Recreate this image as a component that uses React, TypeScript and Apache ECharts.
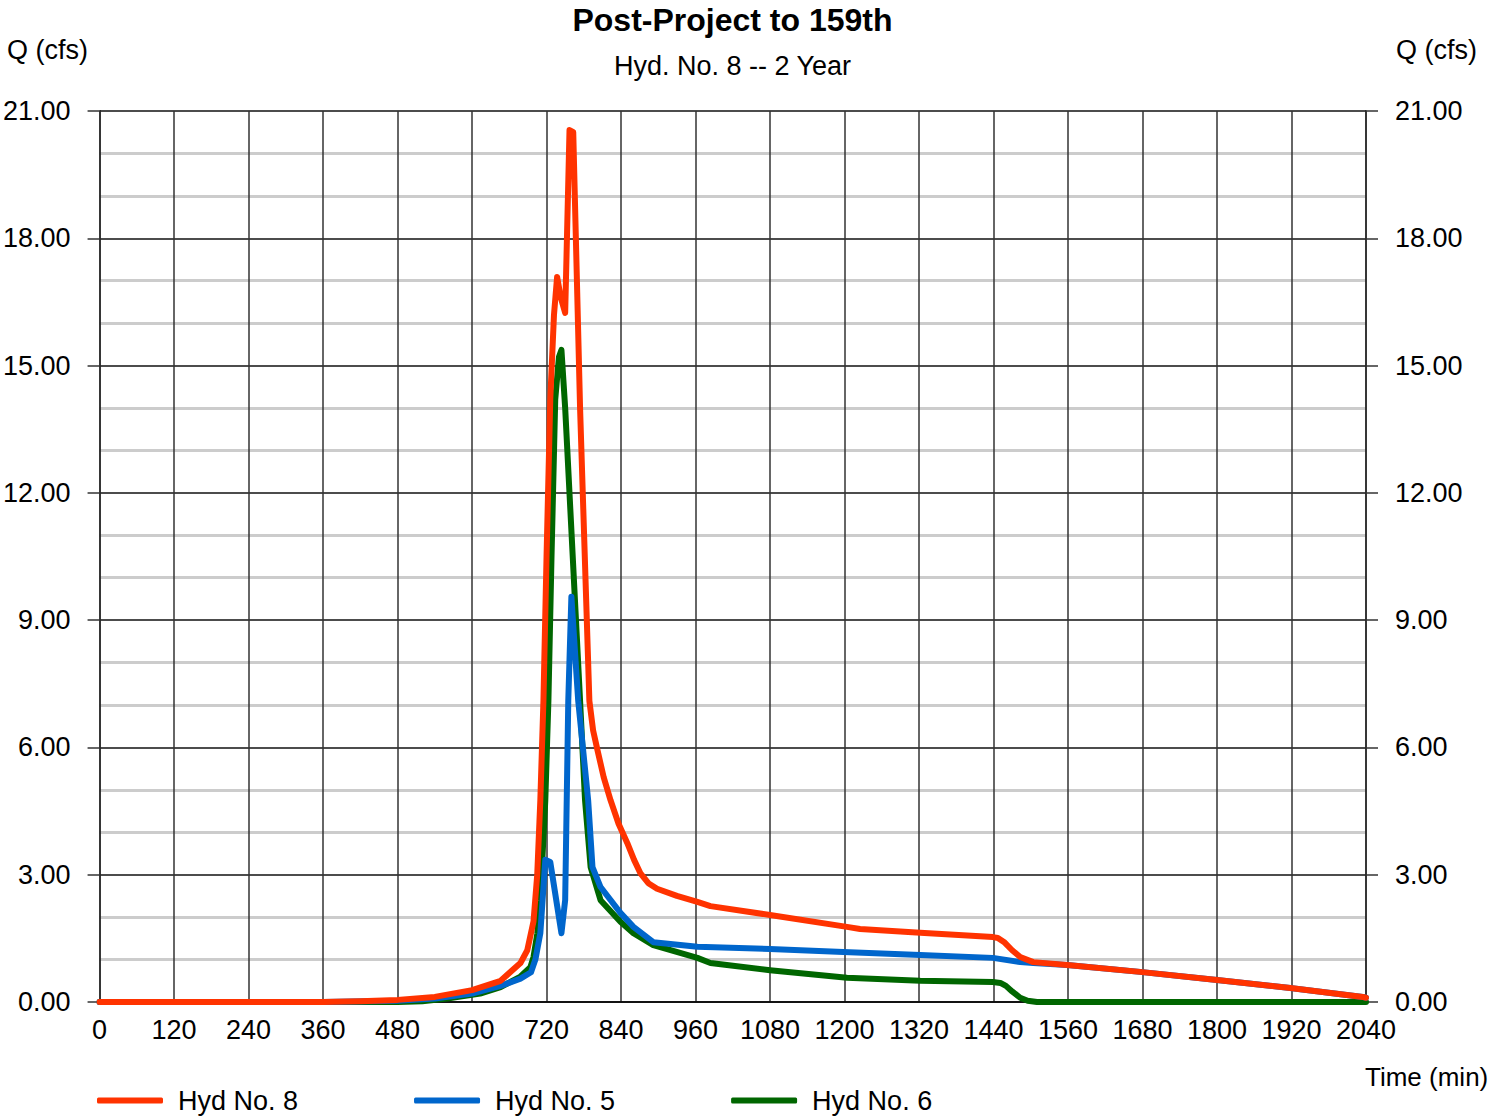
import React, { useEffect, useRef } from "react";
import * as echarts from "echarts";

// ---- Data (time in minutes, flow in cfs) ----
const hyd8Time = [0, 360, 420, 480, 540, 600, 646, 678, 689, 699, 705, 710, 715, 720, 726, 732, 737, 743, 750, 757, 763, 774, 789, 795, 802, 812, 823, 836, 850, 861, 871, 884, 898, 930, 963, 984, 1080, 1204, 1225, 1322, 1439, 1447, 1458, 1470, 1483, 1504, 1559, 1676, 1800, 1918, 2035, 2040];
const hyd8Flow = [0, 0, 0.02, 0.05, 0.12, 0.28, 0.5, 0.92, 1.22, 1.9, 3.0, 4.76, 7.1, 10.5, 14.2, 16.2, 17.09, 16.6, 16.24, 20.55, 20.5, 14.0, 7.1, 6.4, 5.94, 5.3, 4.76, 4.2, 3.75, 3.35, 3.04, 2.8, 2.67, 2.5, 2.36, 2.26, 2.05, 1.77, 1.72, 1.63, 1.53, 1.51, 1.4, 1.22, 1.06, 0.94, 0.87, 0.71, 0.52, 0.33, 0.12, 0.1];

const hyd5Time = [0, 360, 480, 540, 600, 646, 678, 695, 702, 710, 718, 726, 744, 750, 755, 760, 771, 787, 794, 807, 839, 860, 892, 963, 1080, 1198, 1322, 1439, 1483, 1504, 1559, 1676, 1800, 1918, 2035, 2040];
const hyd5Flow = [0, 0, 0.03, 0.08, 0.2, 0.38, 0.55, 0.7, 1.0, 1.62, 3.35, 3.3, 1.62, 2.4, 7.1, 9.55, 7.1, 4.76, 3.18, 2.71, 2.1, 1.77, 1.41, 1.3, 1.25, 1.18, 1.11, 1.04, 0.94, 0.92, 0.87, 0.71, 0.52, 0.33, 0.12, 0.1];

const hyd6Time = [0, 480, 520, 560, 613, 646, 678, 694, 699, 705, 710, 718, 723, 728, 734, 740, 744, 750, 774, 782, 791, 807, 839, 860, 892, 963, 984, 1080, 1204, 1322, 1439, 1451, 1460, 1470, 1483, 1495, 1510, 2040];
const hyd6Flow = [0, 0, 0.02, 0.08, 0.2, 0.35, 0.6, 0.82, 1.06, 1.6, 2.4, 4.76, 7.1, 10.5, 14.2, 15.2, 15.37, 14.0, 7.1, 4.76, 3.18, 2.4, 1.89, 1.62, 1.34, 1.04, 0.92, 0.75, 0.57, 0.5, 0.47, 0.45, 0.38, 0.25, 0.1, 0.03, 0, 0];

const seriesNames = ["Hyd No. 8", "Hyd No. 5", "Hyd No. 6"];
const seriesColors = ["#ff3300", "#0066cc", "#006600"];

const titleText = "Post-Project to 159th";
const subtitleText = "Hyd. No. 8 -- 2 Year";
const yAxisTitle = "Q (cfs)";
const xAxisTitle = "Time (min)";

const zip = (t: number[], q: number[]) => t.map((v, i) => [v, q[i]]);

const FONT = "'Liberation Sans', Arial, Helvetica, sans-serif";
const FS = 27;

export default function App() {
  const ref = useRef<HTMLDivElement | null>(null);

  useEffect(() => {
    if (!ref.current) return;
    const chart = echarts.init(ref.current, undefined, { renderer: "svg" });

    const yAxisBase = {
      type: "value" as const,
      min: 0,
      max: 21,
      interval: 3,
      axisLine: { show: true, lineStyle: { color: "#000", width: 1.5 } },
      axisTick: { show: true, inside: false, length: 12, lineStyle: { color: "#333", width: 1.5 } },
      axisLabel: {
        show: true,
        margin: 29,
        fontSize: FS,
        color: "#000",
        fontFamily: FONT,
        formatter: (v: number) => v.toFixed(2),
      },
    };

    const lineSeries = (idx: number, data: number[][]) => ({
      name: seriesNames[idx],
      type: "line",
      data,
      color: seriesColors[idx],
      showSymbol: false,
      symbol: "none",
      smooth: false,
      lineStyle: { width: 6, color: seriesColors[idx], cap: "round", join: "round" },
      emphasis: { disabled: true },
    });

    chart.setOption({
      animation: false,
      backgroundColor: "#fff",
      grid: { left: 99, right: 125, top: 111, bottom: 114, containLabel: false },
      xAxis: {
        type: "value",
        min: 0,
        max: 2040,
        interval: 120,
        z: 1,
        axisLine: { show: true, lineStyle: { color: "#000", width: 1.5 } },
        axisTick: { show: false },
        axisLabel: {
          margin: 14,
          fontSize: FS,
          color: "#000",
          fontFamily: FONT,
          formatter: (v: number) => String(v),
        },
        splitLine: { show: true, lineStyle: { color: "#333", width: 1.5 } },
      },
      yAxis: [
        {
          ...yAxisBase,
          position: "left",
          splitLine: { show: true, lineStyle: { color: "#111", width: 1.5 } },
          minorTick: { show: false, splitNumber: 3 },
          minorSplitLine: { show: true, lineStyle: { color: "#cccccc", width: 3 } },
        },
        {
          ...yAxisBase,
          position: "right",
          splitLine: { show: false },
        },
      ],
      legend: {
        data: seriesNames,
        left: 97,
        top: 1087,
        padding: 0,
        icon: "roundRect",
        itemWidth: 66,
        itemHeight: 6,
        itemGap: 116,
        textStyle: { fontSize: FS, color: "#000", fontFamily: FONT, padding: [0, 0, 0, 10] },
      },
      graphic: [
        {
          type: "text",
          x: 732.5,
          y: 20,
          style: { text: titleText, textAlign: "center", textVerticalAlign: "middle", font: `bold 32px ${FONT}`, fill: "#000" },
        },
        {
          type: "text",
          x: 732.5,
          y: 66,
          style: { text: subtitleText, textAlign: "center", textVerticalAlign: "middle", font: `${FS}px ${FONT}`, fill: "#000" },
        },
        {
          type: "text",
          x: 7,
          y: 50,
          style: { text: yAxisTitle, textAlign: "left", textVerticalAlign: "middle", font: `${FS}px ${FONT}`, fill: "#000" },
        },
        {
          type: "text",
          x: 1396,
          y: 50,
          style: { text: yAxisTitle, textAlign: "left", textVerticalAlign: "middle", font: `${FS}px ${FONT}`, fill: "#000" },
        },
        {
          type: "text",
          x: 1365,
          y: 1077,
          style: { text: xAxisTitle, textAlign: "left", textVerticalAlign: "middle", font: `26px ${FONT}`, fill: "#000" },
        },
      ],
      series: [
        lineSeries(2, zip(hyd6Time, hyd6Flow)),
        lineSeries(1, zip(hyd5Time, hyd5Flow)),
        lineSeries(0, zip(hyd8Time, hyd8Flow)),
      ],
    });

    return () => chart.dispose();
  }, []);

  return (
    <div
      ref={ref}
      style={{ position: "fixed", left: 0, top: 0, width: 1491, height: 1116, background: "#fff" }}
    />
  );
}
